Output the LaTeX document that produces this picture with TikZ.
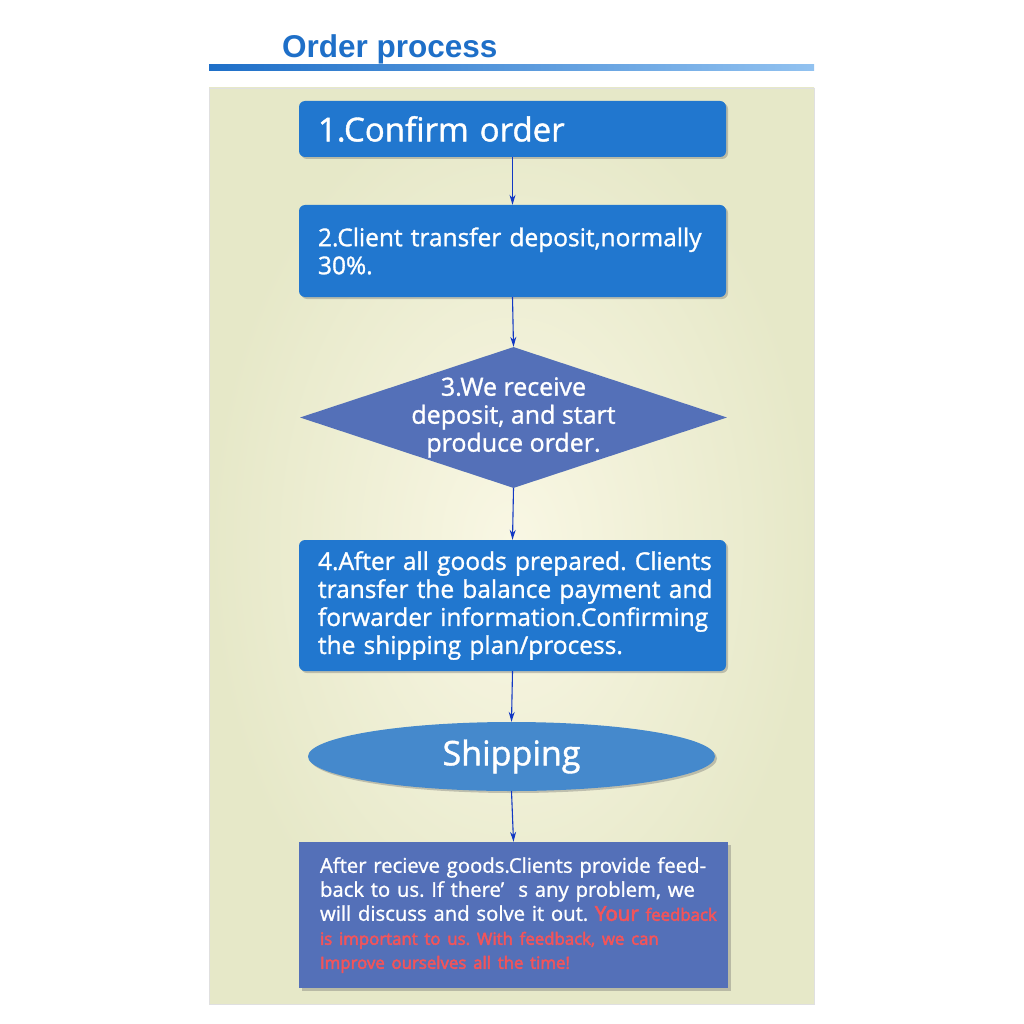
\documentclass[tikz,border=0pt]{standalone}
\usepackage{fontspec}
\setmainfont{Open Sans}[FakeBold=1.2]
\newfontfamily\heavy{Open Sans}[FakeBold=3]
\newfontfamily\titlefont{Liberation Sans}
\usetikzlibrary{shapes.geometric,arrows.meta,shadows}
\definecolor{titleblue}{HTML}{1E6FC8}
\definecolor{linelight}{HTML}{92C2F0}
\definecolor{bgin}{HTML}{F9F7E4}
\definecolor{bgout}{HTML}{E6E8C8}
\definecolor{boxblue}{HTML}{2177CF}
\definecolor{slate}{HTML}{5470B8}
\definecolor{ellblue}{HTML}{4589CC}
\definecolor{arrblue}{HTML}{1238C4}
\definecolor{redtxt}{HTML}{F2545A}
\newcommand{\oneline}[1]{\mbox{#1}}
\tikzset{
  stepbox/.style={draw=none, fill=boxblue, rounded corners=6pt, minimum width=427pt,
    text=white, align=left, text width=389pt, inner sep=0pt,
    drop shadow={shadow xshift=2pt, shadow yshift=-2pt, opacity=0.35, fill=black!60}},
  decide/.style={diamond, draw=none, fill=slate, minimum width=427pt, minimum height=141pt,
    inner sep=0pt, aspect=3},
  shipell/.style={ellipse, draw=none, fill=ellblue, minimum width=407pt, minimum height=69pt,
    text=white, inner sep=0pt,
    drop shadow={shadow xshift=2pt, shadow yshift=-2pt, opacity=0.35, fill=black!60}},
  notebox/.style={draw=none, fill=slate, minimum width=429pt, minimum height=146pt,
    text=white, align=left, text width=387pt, inner sep=0pt,
    drop shadow={shadow xshift=3pt, shadow yshift=-3pt, opacity=0.35, fill=black!60}},
  arr/.style={draw=arrblue, line width=1.1pt, -{Stealth[length=10pt,width=6pt]}},
  mid/.style={font=\fontsize{24.5}{28}\selectfont},
}
\begin{document}
\frenchspacing
\begin{tikzpicture}[x=1pt,y=-1pt]
\useasboundingbox (0,0) rectangle (1024,1024);
\fill[white] (0,0) rectangle (1024,1024);
% title
\node[anchor=base west, text=titleblue, inner sep=0pt, font=\titlefont\bfseries\fontsize{31.5}{31.5}\selectfont] (title) at (282,58) {Order process};
\shade[left color=titleblue, right color=linelight] (209,65) rectangle (814,71);
% panel
\shade[inner color=bgin, outer color=bgout] (209,88) rectangle (814,1004);
\draw[black!12, line width=0.6pt] (209,88) rectangle (814,1004);
% steps
\node[stepbox, minimum height=56pt, font=\fontsize{33}{36}\selectfont] (b1) at (512.5,129) {1.Confirm order};
\node[stepbox, minimum height=92pt, mid] (b2) at (512.5,251) {\oneline{2.Client transfer deposit,normally}\\30\%.};
\node[decide, label={[text=white, align=center, font=\fontsize{25}{28}\selectfont]center:3.We receive\\deposit, and start\\produce order.}] (d3) at (513.5,417.5) {};
\node[stepbox, minimum height=131pt, mid] (b4) at (512.5,605.5) {\oneline{4.After all goods prepared. Clients}\\\oneline{transfer the balance payment and}\\\oneline{forwarder information.Confirming}\\\oneline{the shipping plan/process.}};
\node[shipell, font=\fontsize{34}{36}\selectfont] (e5) at (511.5,756.5) {Shipping};
\node[notebox, font=\fontsize{20.3}{24}\selectfont] (b6) at (513.5,915) {\oneline{After recieve goods.Clients provide feed-}\\\oneline{back to us. If there’\hspace{0.7em}s any problem, we}\\\oneline{will discuss and solve it out. {\heavy\color{redtxt}{\fontsize{20.5}{24}\selectfont Your} {\fontsize{16.8}{24}\selectfont feedback}}}\\\oneline{\heavy\color{redtxt}\fontsize{16.8}{24}\selectfont is important to us. With feedback, we can}\\\oneline{\heavy\color{redtxt}\fontsize{16.8}{24}\selectfont Improve ourselves all the time!}};
% connectors
\draw[arr] (b1.south) -- (b2.north);
\draw[arr] (b2.south) -- (d3.north);
\draw[arr] (d3.south) -- (b4.north);
\draw[arr] (b4.south) -- (e5.north);
\draw[arr] (e5.south) -- (b6.north);
\end{tikzpicture}
\end{document}
